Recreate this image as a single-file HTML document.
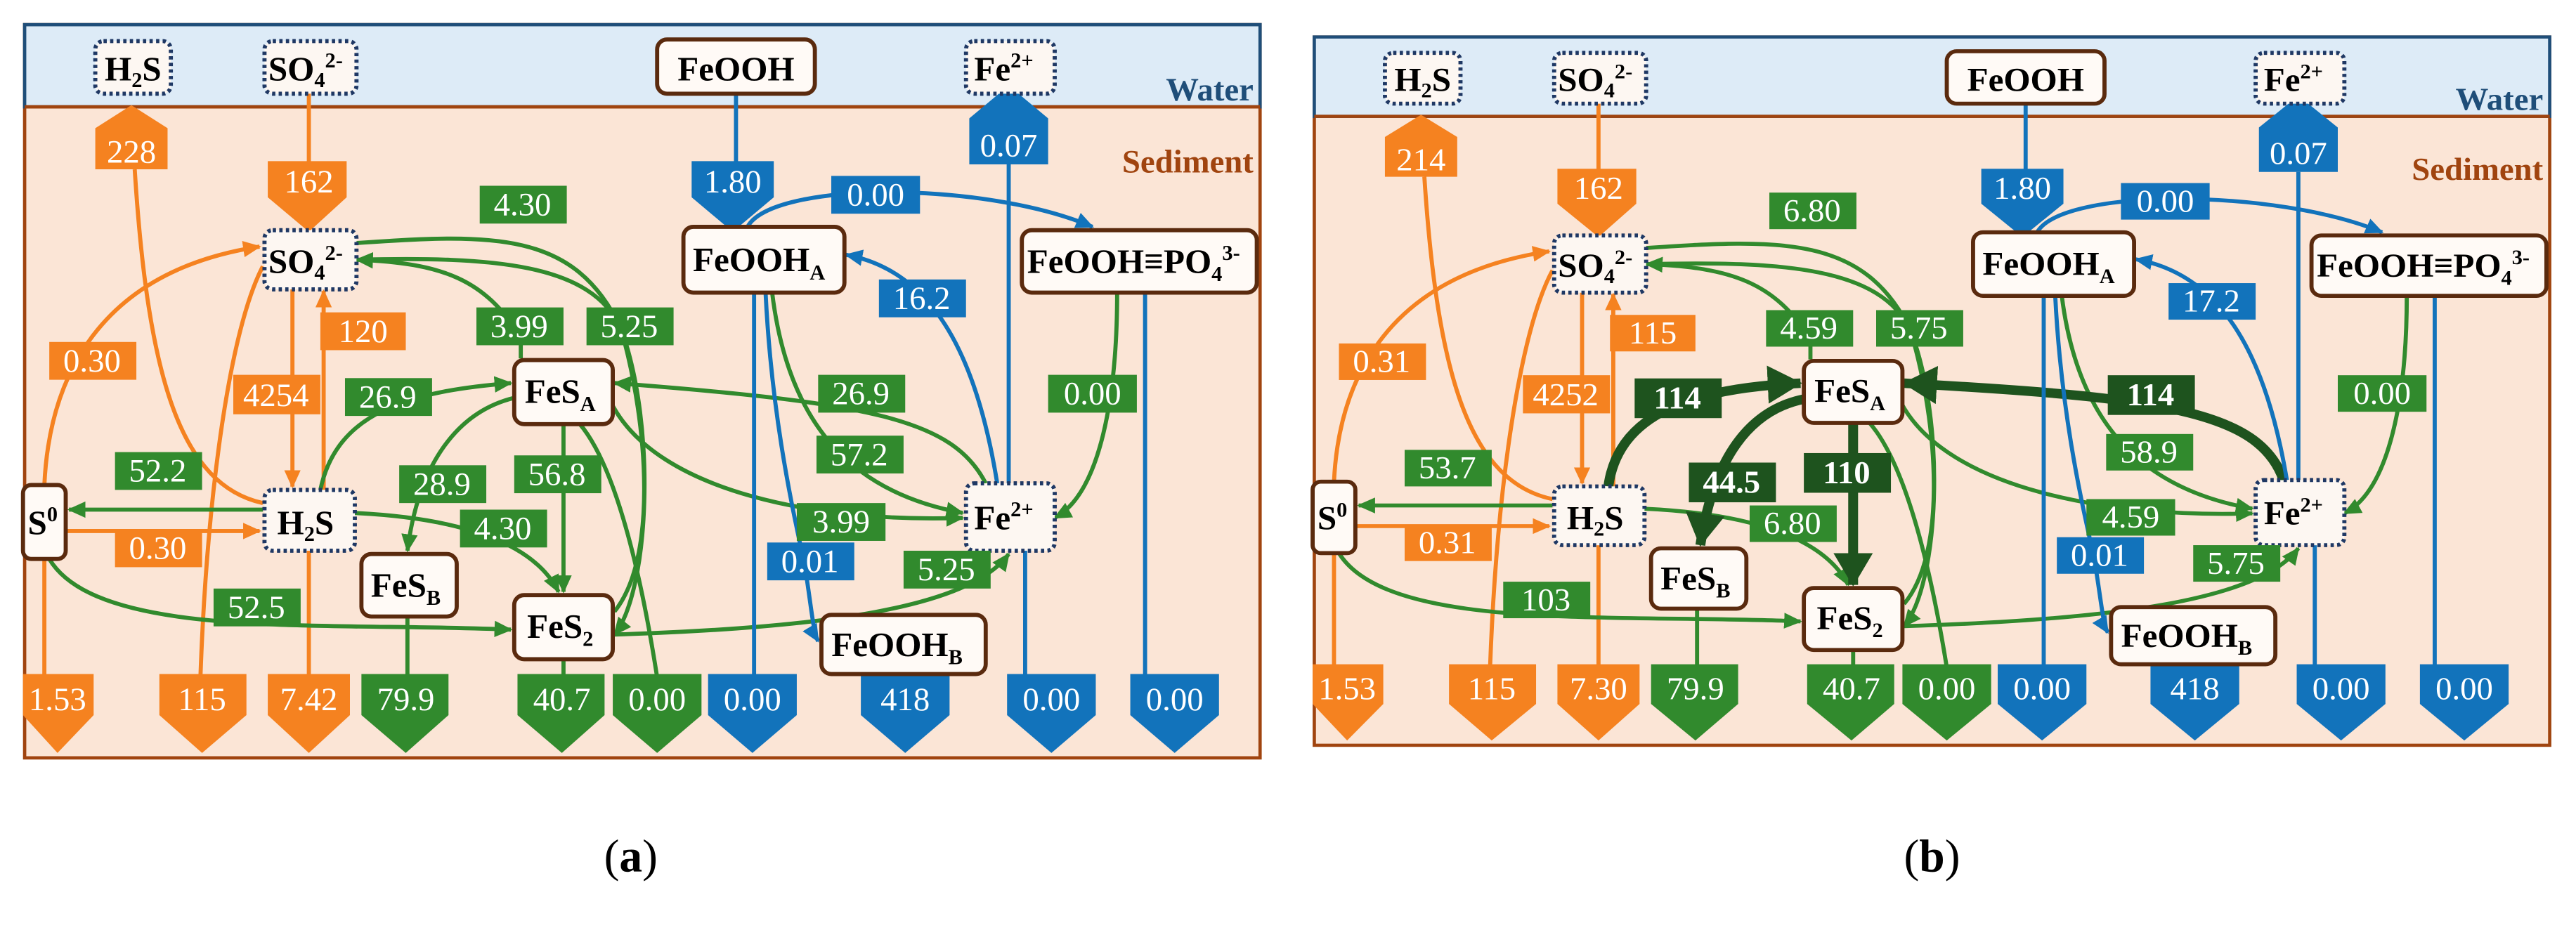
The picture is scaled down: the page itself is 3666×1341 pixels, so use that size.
<!DOCTYPE html>
<html><head><meta charset="utf-8"><style>
html,body{margin:0;padding:0;background:#fff;}
svg{display:block;}
.lb{font-family:"Liberation Serif",serif;font-size:20px;fill:#fff;text-anchor:middle;}
.lbb{font-family:"Liberation Serif",serif;font-size:20px;fill:#fff;text-anchor:middle;font-weight:bold;}
.nd{font-family:"Liberation Serif",serif;font-size:21px;font-weight:bold;fill:#000;text-anchor:middle;}
.o{fill:#f58220}.g{fill:#318a2d}.b{fill:#1273bb}.d{fill:#1e531e}
.po{fill:none;stroke:#f58220;stroke-width:2.5}
.pg{fill:none;stroke:#318a2d;stroke-width:2.5}
.pb{fill:none;stroke:#1273bb;stroke-width:2.5}
.pd{fill:none;stroke:#1e531e;stroke-width:6}
.dot{fill:#fdf7f2;stroke:#1f3864;stroke-width:2.5;stroke-dasharray:2 2}
.sol{fill:#fffaf6;stroke:#5a2a0e;stroke-width:2.5}
</style></head><body>
<svg width="3666" height="1341" viewBox="0 0 1568 573" preserveAspectRatio="none" xmlns="http://www.w3.org/2000/svg">
<defs>
<marker id="ao" markerUnits="userSpaceOnUse" markerWidth="12" markerHeight="12" refX="10" refY="6" orient="auto"><path d="M0,1 L11,6 L0,11 Z" fill="#f58220"/></marker>
<marker id="ag" markerUnits="userSpaceOnUse" markerWidth="12" markerHeight="12" refX="10" refY="6" orient="auto"><path d="M0,1 L11,6 L0,11 Z" fill="#318a2d"/></marker>
<marker id="ab" markerUnits="userSpaceOnUse" markerWidth="12" markerHeight="12" refX="10" refY="6" orient="auto"><path d="M0,1 L11,6 L0,11 Z" fill="#1273bb"/></marker>
<marker id="ad" markerUnits="userSpaceOnUse" markerWidth="22" markerHeight="24" refX="20" refY="12" orient="auto"><path d="M0,0 L21,12 L0,24 Z" fill="#1e531e"/></marker>
</defs>

<!-- ================= PANEL A ================= -->
<g>
<rect x="15" y="15" width="752" height="446" fill="#fbe5d6" stroke="#a0440f" stroke-width="2"/>
<rect x="15" y="15" width="752" height="50" fill="#ddebf7" stroke="#1f4e79" stroke-width="2"/>
<line x1="15" y1="65" x2="767" y2="65" stroke="#a0440f" stroke-width="2"/>
<text x="763" y="61" style="font-family:'Liberation Serif',serif;font-weight:bold;font-size:20px;fill:#1f4e79;text-anchor:end">Water</text>
<text x="763" y="105" style="font-family:'Liberation Serif',serif;font-weight:bold;font-size:20px;fill:#a0440f;text-anchor:end">Sediment</text>

<path class="po" d="M82,103 C90,230 110,295 160,306"/>
<line class="po" x1="188" y1="52" x2="188" y2="100"/>
<path class="po" d="M27,295 C30,230 60,165 158,150" marker-end="url(#ao)"/>
<path class="po" d="M160,162 C140,200 126,300 122,412"/>
<line class="po" x1="178" y1="176" x2="178" y2="296" marker-end="url(#ao)"/>
<line class="po" x1="197" y1="298" x2="197" y2="177" marker-end="url(#ao)"/>
<line class="po" x1="40" y1="323" x2="158" y2="323" marker-end="url(#ao)"/>
<line class="po" x1="27" y1="340" x2="27" y2="412"/>
<line class="po" x1="188" y1="335" x2="188" y2="412"/>
<path class="pg" d="M215,148 C300,142 350,140 378,200 C400,260 395,360 374,386" marker-end="url(#ag)"/>
<path class="pg" d="M317,218 L317,205 C295,170 270,160 217,158" marker-end="url(#ag)"/>
<path class="pg" d="M217,158 C300,156 360,160 378,200 C395,260 400,340 374,372" />
<path class="pg" d="M195,298 C205,250 250,238 311,233" marker-end="url(#ag)"/>
<path class="pg" d="M313,242 C280,250 255,280 248,335" marker-end="url(#ag)"/>
<line class="pg" x1="343" y1="258" x2="343" y2="360" marker-end="url(#ag)"/>
<line class="pg" x1="160" y1="310" x2="42" y2="310" marker-end="url(#ag)"/>
<path class="pg" d="M215,312 C280,315 325,330 340,360" marker-end="url(#ag)"/>
<path class="pg" d="M30,340 C60,390 200,378 311,383" marker-end="url(#ag)"/>
<path class="pg" d="M353,258 C380,290 395,380 400,412"/>
<path class="pg" d="M600,294 C580,255 530,245 374,233" marker-end="url(#ag)"/>
<path class="pg" d="M372,245 C400,300 500,318 586,315" marker-end="url(#ag)"/>
<path class="pg" d="M470,178 C480,260 520,300 586,312" marker-end="url(#ag)"/>
<path class="pg" d="M374,386 C500,382 590,370 614,337" marker-end="url(#ag)"/>
<path class="pg" d="M680,178 C680,240 670,300 642,315" marker-end="url(#ag)"/>
<line class="pg" x1="248" y1="375" x2="248" y2="412"/>
<line class="pg" x1="343" y1="400" x2="343" y2="412"/>
<line class="pb" x1="448" y1="57" x2="448" y2="100"/>
<path class="pb" d="M455,138 C470,110 600,110 665,138" marker-end="url(#ab)"/>
<path class="pb" d="M607,294 C595,220 570,165 515,155" marker-end="url(#ab)"/>
<line class="pb" x1="459" y1="178" x2="459" y2="412"/>
<path class="pb" d="M466,178 C470,260 485,320 490,345 C494,370 495,385 498,390" marker-end="url(#ab)"/>
<line class="pb" x1="624" y1="335" x2="624" y2="412"/>
<line class="pb" x1="697" y1="178" x2="697" y2="412"/>
<line class="pb" x1="614" y1="294" x2="614" y2="100"/>

<path class="o" d="M80,64 L102,78 L102,103 L58,103 L58,78 Z"/><text class="lb" x="80" y="99">228</text>
<path class="o" d="M163,98 L211,98 L211,120 L188,141 L163,120 Z"/><text class="lb" x="188" y="117">162</text>
<path class="b" d="M421,98 L471,98 L471,120 L446,141 L421,120 Z"/><text class="lb" x="446" y="117">1.80</text>
<path class="b" d="M614,52 L638,72 L638,100 L590,100 L590,72 Z"/><text class="lb" x="614" y="95">0.07</text>
<path class="o" d="M14,410 L57,410 L57,435 L35,458 L14,435 Z"/><text class="lb" x="35" y="432">1.53</text>
<path class="o" d="M97,410 L150,410 L150,435 L123,458 L97,435 Z"/><text class="lb" x="123" y="432">115</text>
<path class="o" d="M163,410 L213,410 L213,435 L188,458 L163,435 Z"/><text class="lb" x="188" y="432">7.42</text>
<path class="g" d="M220,410 L273,410 L273,435 L247,458 L220,435 Z"/><text class="lb" x="247" y="432">79.9</text>
<path class="g" d="M315,410 L368,410 L368,435 L342,458 L315,435 Z"/><text class="lb" x="342" y="432">40.7</text>
<path class="g" d="M373,410 L427,410 L427,435 L400,458 L373,435 Z"/><text class="lb" x="400" y="432">0.00</text>
<path class="b" d="M431,410 L485,410 L485,435 L458,458 L431,435 Z"/><text class="lb" x="458" y="432">0.00</text>
<path class="b" d="M524,410 L578,410 L578,435 L551,458 L524,435 Z"/><text class="lb" x="551" y="432">418</text>
<path class="b" d="M613,410 L667,410 L667,435 L640,458 L613,435 Z"/><text class="lb" x="640" y="432">0.00</text>
<path class="b" d="M688,410 L742,410 L742,435 L715,458 L688,435 Z"/><text class="lb" x="715" y="432">0.00</text>

<rect class="dot" x="58" y="25" width="46" height="32" rx="5"/><text class="nd" x="81" y="49">H<tspan font-size="13" dy="4">2</tspan><tspan dy="-4">S</tspan></text>
<rect class="dot" x="161" y="25" width="56" height="32" rx="5"/><text class="nd" x="186" y="49">SO<tspan font-size="13" dy="4">4</tspan><tspan font-size="13" dy="-12">2-</tspan></text>
<rect class="sol" x="400" y="24" width="96" height="33" rx="6"/><text class="nd" x="448" y="49">FeOOH</text>
<rect class="dot" x="588" y="25" width="54" height="32" rx="5"/><text class="nd" x="611" y="49">Fe<tspan font-size="13" dy="-8">2+</tspan></text>
<rect class="dot" x="161" y="140" width="56" height="36" rx="5"/><text class="nd" x="186" y="166">SO<tspan font-size="13" dy="4">4</tspan><tspan font-size="13" dy="-12">2-</tspan></text>
<rect class="sol" x="14" y="295" width="26" height="45" rx="5"/><text class="nd" x="26" y="325">S<tspan font-size="13" dy="-8">0</tspan></text>
<rect class="dot" x="161" y="298" width="55" height="37" rx="5"/><text class="nd" x="186" y="325">H<tspan font-size="13" dy="4">2</tspan><tspan dy="-4">S</tspan></text>
<rect class="sol" x="313" y="219" width="60" height="39" rx="6"/><text class="nd" x="341" y="245">FeS<tspan font-size="13" dy="5">A</tspan></text>
<rect class="sol" x="220" y="337" width="58" height="38" rx="6"/><text class="nd" x="247" y="363">FeS<tspan font-size="13" dy="5">B</tspan></text>
<rect class="sol" x="313" y="362" width="60" height="39" rx="6"/><text class="nd" x="341" y="388">FeS<tspan font-size="13" dy="5">2</tspan></text>
<rect class="sol" x="416" y="138" width="98" height="40" rx="6"/><text class="nd" x="462" y="165">FeOOH<tspan font-size="13" dy="5">A</tspan></text>
<rect class="sol" x="622" y="140" width="143" height="38" rx="6"/><text class="nd" x="690" y="166">FeOOH≡PO<tspan font-size="13" dy="5">4</tspan><tspan font-size="13" dy="-13">3-</tspan></text>
<rect class="dot" x="588" y="294" width="54" height="41" rx="5"/><text class="nd" x="611" y="322">Fe<tspan font-size="13" dy="-8">2+</tspan></text>
<rect class="sol" x="500" y="374" width="100" height="36" rx="6"/><text class="nd" x="546" y="399">FeOOH<tspan font-size="13" dy="5">B</tspan></text>

<rect class="g" x="292" y="113" width="53" height="23"/><text class="lb" x="318" y="131">4.30</text>
<rect class="g" x="290" y="187" width="53" height="23"/><text class="lb" x="316" y="205">3.99</text>
<rect class="g" x="357" y="187" width="53" height="23"/><text class="lb" x="383" y="205">5.25</text>
<rect class="g" x="210" y="230" width="53" height="23"/><text class="lb" x="236" y="248">26.9</text>
<rect class="g" x="243" y="283" width="53" height="23"/><text class="lb" x="269" y="301">28.9</text>
<rect class="g" x="313" y="277" width="53" height="23"/><text class="lb" x="339" y="295">56.8</text>
<rect class="g" x="70" y="275" width="53" height="23"/><text class="lb" x="96" y="293">52.2</text>
<rect class="g" x="280" y="310" width="53" height="23"/><text class="lb" x="306" y="328">4.30</text>
<rect class="g" x="130" y="358" width="53" height="23"/><text class="lb" x="156" y="376">52.5</text>
<rect class="g" x="498" y="228" width="53" height="23"/><text class="lb" x="524" y="246">26.9</text>
<rect class="g" x="497" y="265" width="53" height="23"/><text class="lb" x="523" y="283">57.2</text>
<rect class="g" x="485" y="306" width="54" height="23"/><text class="lb" x="512" y="324">3.99</text>
<rect class="g" x="550" y="335" width="53" height="23"/><text class="lb" x="576" y="353">5.25</text>
<rect class="g" x="638" y="228" width="54" height="23"/><text class="lb" x="665" y="246">0.00</text>
<rect class="o" x="30" y="208" width="53" height="23"/><text class="lb" x="56" y="226">0.30</text>
<rect class="o" x="195" y="190" width="52" height="23"/><text class="lb" x="221" y="208">120</text>
<rect class="o" x="142" y="228" width="53" height="24"/><text class="lb" x="168" y="247">4254</text>
<rect class="o" x="70" y="322" width="53" height="23"/><text class="lb" x="96" y="340">0.30</text>
<rect class="b" x="506" y="107" width="54" height="23"/><text class="lb" x="533" y="125">0.00</text>
<rect class="b" x="535" y="170" width="53" height="23"/><text class="lb" x="561" y="188">16.2</text>
<rect class="b" x="467" y="330" width="53" height="23"/><text class="lb" x="493" y="348">0.01</text>
</g>

<!-- ================= PANEL B ================= -->
<g transform="translate(785,8) scale(1,0.966)">
<rect x="15" y="15" width="752" height="446" fill="#fbe5d6" stroke="#a0440f" stroke-width="2"/>
<rect x="15" y="15" width="752" height="50" fill="#ddebf7" stroke="#1f4e79" stroke-width="2"/>
<line x1="15" y1="65" x2="767" y2="65" stroke="#a0440f" stroke-width="2"/>
<text x="763" y="61" style="font-family:'Liberation Serif',serif;font-weight:bold;font-size:20px;fill:#1f4e79;text-anchor:end">Water</text>
<text x="763" y="105" style="font-family:'Liberation Serif',serif;font-weight:bold;font-size:20px;fill:#a0440f;text-anchor:end">Sediment</text>

<path class="po" d="M82,103 C90,230 110,295 160,306"/>
<line class="po" x1="188" y1="52" x2="188" y2="100"/>
<path class="po" d="M27,295 C30,230 60,165 158,150" marker-end="url(#ao)"/>
<path class="po" d="M160,162 C140,200 126,300 122,412"/>
<line class="po" x1="178" y1="176" x2="178" y2="296" marker-end="url(#ao)"/>
<line class="po" x1="197" y1="298" x2="197" y2="177" marker-end="url(#ao)"/>
<line class="po" x1="40" y1="323" x2="158" y2="323" marker-end="url(#ao)"/>
<line class="po" x1="27" y1="340" x2="27" y2="412"/>
<line class="po" x1="188" y1="335" x2="188" y2="412"/>
<path class="pg" d="M215,148 C300,142 350,140 378,200 C400,260 395,360 374,386" marker-end="url(#ag)"/>
<path class="pg" d="M317,218 L317,205 C295,170 270,160 217,158" marker-end="url(#ag)"/>
<path class="pg" d="M217,158 C300,156 360,160 378,200 C395,260 400,340 374,372" />
<line class="pg" x1="160" y1="310" x2="42" y2="310" marker-end="url(#ag)"/>
<path class="pg" d="M215,312 C280,315 325,330 340,360" marker-end="url(#ag)"/>
<path class="pg" d="M30,340 C60,390 200,378 311,383" marker-end="url(#ag)"/>
<path class="pg" d="M353,258 C380,290 395,380 400,412"/>
<path class="pg" d="M372,245 C400,300 500,318 586,315" marker-end="url(#ag)"/>
<path class="pg" d="M470,178 C480,260 520,300 586,312" marker-end="url(#ag)"/>
<path class="pg" d="M374,386 C500,382 590,370 614,337" marker-end="url(#ag)"/>
<path class="pg" d="M680,178 C680,240 670,300 642,315" marker-end="url(#ag)"/>
<line class="pg" x1="248" y1="375" x2="248" y2="412"/>
<line class="pg" x1="343" y1="400" x2="343" y2="412"/>
<path class="pd" d="M194,298 C200,252 245,236 311,233" marker-end="url(#ad)"/>
<path class="pd" d="M313,243 C280,250 258,280 250,335" marker-end="url(#ad)"/>
<line class="pd" x1="343" y1="258" x2="343" y2="360" marker-end="url(#ad)"/>
<path class="pd" d="M605,294 C590,250 530,242 374,233" marker-end="url(#ad)"/>
<line class="pb" x1="448" y1="57" x2="448" y2="100"/>
<path class="pb" d="M455,138 C470,110 600,110 665,138" marker-end="url(#ab)"/>
<path class="pb" d="M607,294 C595,220 570,165 515,155" marker-end="url(#ab)"/>
<line class="pb" x1="459" y1="178" x2="459" y2="412"/>
<path class="pb" d="M466,178 C470,260 485,320 490,345 C494,370 495,385 498,390" marker-end="url(#ab)"/>
<line class="pb" x1="624" y1="335" x2="624" y2="412"/>
<line class="pb" x1="697" y1="178" x2="697" y2="412"/>
<line class="pb" x1="614" y1="294" x2="614" y2="100"/>

<path class="o" d="M80,64 L102,78 L102,103 L58,103 L58,78 Z"/><text class="lb" x="80" y="99">214</text>
<path class="o" d="M163,98 L211,98 L211,120 L188,141 L163,120 Z"/><text class="lb" x="188" y="117">162</text>
<path class="b" d="M421,98 L471,98 L471,120 L446,141 L421,120 Z"/><text class="lb" x="446" y="117">1.80</text>
<path class="b" d="M614,52 L638,72 L638,100 L590,100 L590,72 Z"/><text class="lb" x="614" y="95">0.07</text>
<path class="o" d="M14,410 L57,410 L57,435 L35,458 L14,435 Z"/><text class="lb" x="35" y="432">1.53</text>
<path class="o" d="M97,410 L150,410 L150,435 L123,458 L97,435 Z"/><text class="lb" x="123" y="432">115</text>
<path class="o" d="M163,410 L213,410 L213,435 L188,458 L163,435 Z"/><text class="lb" x="188" y="432">7.30</text>
<path class="g" d="M220,410 L273,410 L273,435 L247,458 L220,435 Z"/><text class="lb" x="247" y="432">79.9</text>
<path class="g" d="M315,410 L368,410 L368,435 L342,458 L315,435 Z"/><text class="lb" x="342" y="432">40.7</text>
<path class="g" d="M373,410 L427,410 L427,435 L400,458 L373,435 Z"/><text class="lb" x="400" y="432">0.00</text>
<path class="b" d="M431,410 L485,410 L485,435 L458,458 L431,435 Z"/><text class="lb" x="458" y="432">0.00</text>
<path class="b" d="M524,410 L578,410 L578,435 L551,458 L524,435 Z"/><text class="lb" x="551" y="432">418</text>
<path class="b" d="M613,410 L667,410 L667,435 L640,458 L613,435 Z"/><text class="lb" x="640" y="432">0.00</text>
<path class="b" d="M688,410 L742,410 L742,435 L715,458 L688,435 Z"/><text class="lb" x="715" y="432">0.00</text>

<rect class="dot" x="58" y="25" width="46" height="32" rx="5"/><text class="nd" x="81" y="49">H<tspan font-size="13" dy="4">2</tspan><tspan dy="-4">S</tspan></text>
<rect class="dot" x="161" y="25" width="56" height="32" rx="5"/><text class="nd" x="186" y="49">SO<tspan font-size="13" dy="4">4</tspan><tspan font-size="13" dy="-12">2-</tspan></text>
<rect class="sol" x="400" y="24" width="96" height="33" rx="6"/><text class="nd" x="448" y="49">FeOOH</text>
<rect class="dot" x="588" y="25" width="54" height="32" rx="5"/><text class="nd" x="611" y="49">Fe<tspan font-size="13" dy="-8">2+</tspan></text>
<rect class="dot" x="161" y="140" width="56" height="36" rx="5"/><text class="nd" x="186" y="166">SO<tspan font-size="13" dy="4">4</tspan><tspan font-size="13" dy="-12">2-</tspan></text>
<rect class="sol" x="14" y="295" width="26" height="45" rx="5"/><text class="nd" x="26" y="325">S<tspan font-size="13" dy="-8">0</tspan></text>
<rect class="dot" x="161" y="298" width="55" height="37" rx="5"/><text class="nd" x="186" y="325">H<tspan font-size="13" dy="4">2</tspan><tspan dy="-4">S</tspan></text>
<rect class="sol" x="313" y="219" width="60" height="39" rx="6"/><text class="nd" x="341" y="245">FeS<tspan font-size="13" dy="5">A</tspan></text>
<rect class="sol" x="220" y="337" width="58" height="38" rx="6"/><text class="nd" x="247" y="363">FeS<tspan font-size="13" dy="5">B</tspan></text>
<rect class="sol" x="313" y="362" width="60" height="39" rx="6"/><text class="nd" x="341" y="388">FeS<tspan font-size="13" dy="5">2</tspan></text>
<rect class="sol" x="416" y="138" width="98" height="40" rx="6"/><text class="nd" x="462" y="165">FeOOH<tspan font-size="13" dy="5">A</tspan></text>
<rect class="sol" x="622" y="140" width="143" height="38" rx="6"/><text class="nd" x="690" y="166">FeOOH≡PO<tspan font-size="13" dy="5">4</tspan><tspan font-size="13" dy="-13">3-</tspan></text>
<rect class="dot" x="588" y="294" width="54" height="41" rx="5"/><text class="nd" x="611" y="322">Fe<tspan font-size="13" dy="-8">2+</tspan></text>
<rect class="sol" x="500" y="374" width="100" height="36" rx="6"/><text class="nd" x="546" y="399">FeOOH<tspan font-size="13" dy="5">B</tspan></text>

<rect class="g" x="292" y="113" width="53" height="23"/><text class="lb" x="318" y="131">6.80</text>
<rect class="g" x="290" y="187" width="53" height="23"/><text class="lb" x="316" y="205">4.59</text>
<rect class="g" x="357" y="187" width="53" height="23"/><text class="lb" x="383" y="205">5.75</text>
<rect class="d" x="210" y="230" width="53" height="25"/><text class="lbb" x="236" y="249">114</text>
<rect class="d" x="243" y="283" width="53" height="25"/><text class="lbb" x="269" y="302">44.5</text>
<rect class="d" x="313" y="277" width="53" height="25"/><text class="lbb" x="339" y="296">110</text>
<rect class="g" x="70" y="275" width="53" height="23"/><text class="lb" x="96" y="293">53.7</text>
<rect class="g" x="280" y="310" width="53" height="23"/><text class="lb" x="306" y="328">6.80</text>
<rect class="g" x="130" y="358" width="53" height="23"/><text class="lb" x="156" y="376">103</text>
<rect class="d" x="498" y="228" width="53" height="25"/><text class="lbb" x="524" y="247">114</text>
<rect class="g" x="497" y="265" width="53" height="23"/><text class="lb" x="523" y="283">58.9</text>
<rect class="g" x="485" y="306" width="54" height="23"/><text class="lb" x="512" y="324">4.59</text>
<rect class="g" x="550" y="335" width="53" height="23"/><text class="lb" x="576" y="353">5.75</text>
<rect class="g" x="638" y="228" width="54" height="23"/><text class="lb" x="665" y="246">0.00</text>
<rect class="o" x="30" y="208" width="53" height="23"/><text class="lb" x="56" y="226">0.31</text>
<rect class="o" x="195" y="190" width="52" height="23"/><text class="lb" x="221" y="208">115</text>
<rect class="o" x="142" y="228" width="53" height="24"/><text class="lb" x="168" y="247">4252</text>
<rect class="o" x="70" y="322" width="53" height="23"/><text class="lb" x="96" y="340">0.31</text>
<rect class="b" x="506" y="107" width="54" height="23"/><text class="lb" x="533" y="125">0.00</text>
<rect class="b" x="535" y="170" width="53" height="23"/><text class="lb" x="561" y="188">17.2</text>
<rect class="b" x="467" y="330" width="53" height="23"/><text class="lb" x="493" y="348">0.01</text>
</g>

<text x="384" y="530" style="font-family:'Liberation Serif',serif;font-size:28px;text-anchor:middle">(<tspan font-weight="bold">a</tspan>)</text>
<text x="1176" y="530" style="font-family:'Liberation Serif',serif;font-size:28px;text-anchor:middle">(<tspan font-weight="bold">b</tspan>)</text>
</svg>
</body></html>
